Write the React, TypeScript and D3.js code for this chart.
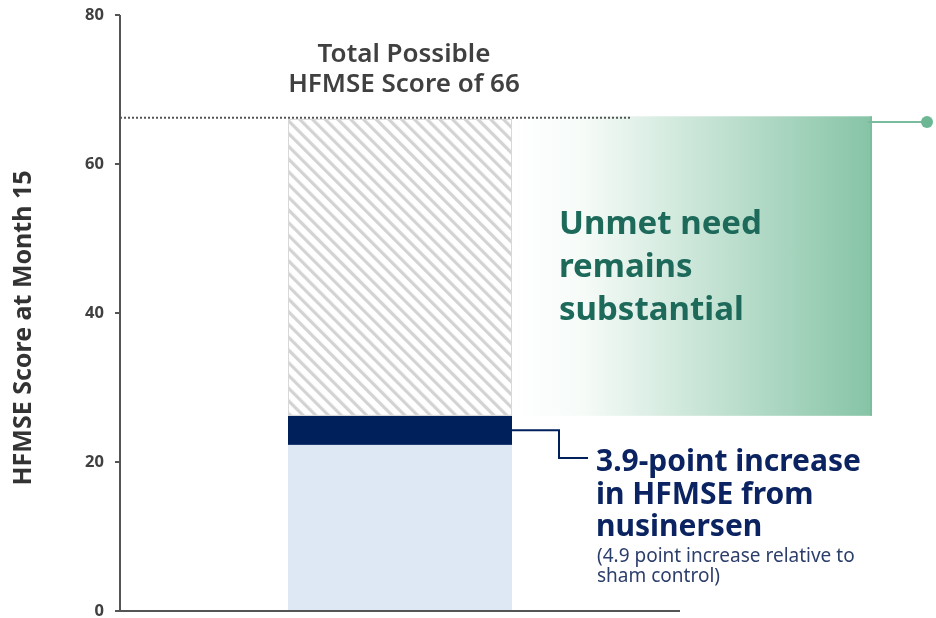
import React from "react";
import * as d3 from "d3";

const yTicks = [0, 20, 40, 60, 80];
const baseScore = [22.3];
const increase = [3.9];
const totalPossible = [66];
const titleLines = ["Total Possible", "HFMSE Score of 66"];
const unmetLines = ["Unmet need", "remains", "substantial"];
const increaseLines = ["3.9-point increase", "in HFMSE from", "nusinersen"];
const noteLines = ["(4.9 point increase relative to", "sham control)"];

const W = 936, H = 618;
const FONT = "'Noto Sans', 'Open Sans', sans-serif";

export default function App() {
  const y = d3.scaleLinear().domain([0, 80]).range([611, 15]);
  const barX = 288, barW = 224;
  const base = baseScore[0];
  const top = base + increase[0];
  const total = totalPossible[0];
  const midNavy = (y(base) + y(top)) / 2;
  return (
    <div style={{ position: "fixed", left: 0, top: 0, width: W, height: H, overflow: "hidden" }}>
      <svg width={W} height={H} style={{ display: "block", fontFamily: FONT }}>
        <defs>
          <pattern id="hatch" patternUnits="userSpaceOnUse" width="9" height="9" patternTransform="rotate(-45)">
            <rect width="9" height="9" fill="#fff" />
            <rect x="0" y="0" width="3.2" height="9" fill="#d3d3d3" />
          </pattern>
          <linearGradient id="green" x1="0" x2="1" y1="0" y2="0">
            <stop offset="0" stopColor="#ffffff" />
            <stop offset="0.2" stopColor="#f6fbf8" />
            <stop offset="1" stopColor="#86c4a6" />
          </linearGradient>
        </defs>
        <rect x={barX + barW} y={y(total) - 3} width={872 - (barX + barW)} height={y(top) - y(total) + 3} fill="url(#green)" />
        <line x1={871} x2={871} y1={y(total) - 3} y2={y(top)} stroke="#79bb9c" strokeWidth={1.5} />
        <line x1={868} x2={925} y1={122} y2={122} stroke="#79bb9c" strokeWidth={2} />
        <circle cx={927} cy={122} r={6} fill="#6cb894" />
        <rect x={barX} y={y(base)} width={barW} height={y(0) - y(base)} fill="#dde8f4" />
        <rect x={barX} y={y(top)} width={barW} height={y(base) - y(top)} fill="#00205c" />
        <rect x={barX + 0.5} y={y(total)} width={barW - 1} height={y(top) - y(total) - 0.5} fill="url(#hatch)" stroke="#d8d8d8" strokeWidth={1} />
        <line x1={120} x2={630} y1={y(total) - 1.5} y2={y(total) - 1.5} stroke="#555" strokeWidth={2} strokeDasharray="2 2" />
        <polyline points={`${barX + barW},${midNavy} 559,${midNavy} 559,458 588,458`} fill="none" stroke="#00205c" strokeWidth={2} />
        <line x1={120} x2={120} y1={y(80)} y2={y(0)} stroke="#555" strokeWidth={2} />
        <line x1={115} x2={680} y1={y(0)} y2={y(0)} stroke="#555" strokeWidth={2} />
        {yTicks.map(t => (
          <g key={t}>
            <line x1={115} x2={120} y1={y(t)} y2={y(t)} stroke="#555" strokeWidth={2} />
            <text x={104} y={y(t)} dy="0.33em" textAnchor="end" fontSize={16.5} fontWeight={700} fill="#404040">{t}</text>
          </g>
        ))}
        <text transform={`translate(31,${328}) rotate(-90)`} textAnchor="middle" fontSize={25} fontWeight={700} fill="#333">HFMSE Score at Month 15</text>
        {titleLines.map((l, i) => (
          <text key={l} x={404} y={62 + i * 30} textAnchor="middle" fontSize={26} fontWeight={600} fill="#404040">{l}</text>
        ))}
        {unmetLines.map((l, i) => (
          <text key={l} x={559} y={234 + i * 43} fontSize={33} fontWeight={700} fill="#1d6a5b">{l}</text>
        ))}
        {increaseLines.map((l, i) => (
          <text key={l} x={596} y={471 + i * 32.5} fontSize={30} fontWeight={700} fill="#0b2461">{l}</text>
        ))}
        {noteLines.map((l, i) => (
          <text key={l} x={597} y={562 + i * 20} fontSize={19} fill="#2c3e6b">{l}</text>
        ))}
      </svg>
    </div>
  );
}
